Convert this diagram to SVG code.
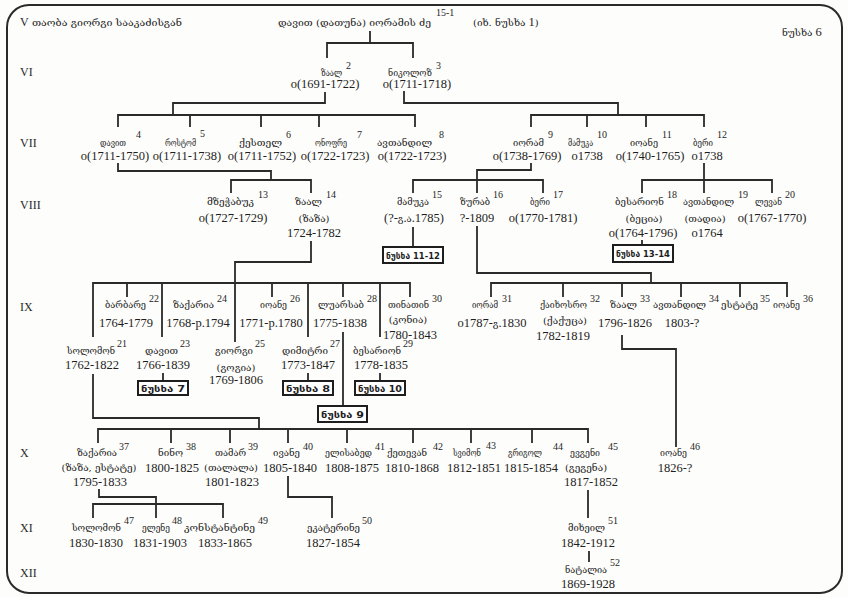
<svg xmlns="http://www.w3.org/2000/svg" width="848" height="597" viewBox="0 0 848 597">
<style>
.g{font-family:"DejaVu Serif","DejaVu Sans","Noto Sans",sans-serif;font-size:10px;fill:#1e1e1e}
.gc{font-family:"DejaVu Serif","DejaVu Sans","Noto Sans",sans-serif;font-size:10px;fill:#1e1e1e;text-anchor:middle}
.d{font-family:"Liberation Serif","DejaVu Serif",serif;font-size:12.5px;fill:#1e1e1e;text-anchor:middle}
.s{font-family:"Liberation Serif",serif;font-size:10px;fill:#1e1e1e}
.r{font-family:"Liberation Serif",serif;font-size:12px;fill:#2a2a2a}
.gs{font-family:"DejaVu Serif","DejaVu Sans",sans-serif;font-size:9.5px}
.bx{fill:#fff;stroke:#1e1e1e;stroke-width:2}
.bt{font-family:"DejaVu Sans","Noto Sans",sans-serif;font-size:9.5px;font-weight:bold;fill:#1e1e1e}
.ln path{fill:none;stroke:#2a2a2a;stroke-width:1.8}
</style>
<rect x="0" y="0" width="848" height="597" fill="#fdfdfb"/>
<rect x="7" y="5" width="835" height="588" rx="22" ry="22" fill="none" stroke="#2a2a2a" stroke-width="2"/>

<g id="row-labels">
<text class="r" x="20" y="26">V</text>
<text class="r" x="20" y="76">VI</text>
<text class="r" x="20" y="147">VII</text>
<text class="r" x="20" y="209">VIII</text>
<text class="r" x="20" y="311">IX</text>
<text class="r" x="20" y="457">X</text>
<text class="r" x="20" y="532">XI</text>
<text class="r" x="20" y="577">XII</text>
</g>

<g id="header">
<text class="g" x="32" y="26" textLength="150" lengthAdjust="spacingAndGlyphs">თაობა გიორგი სააკაძისგან</text>
<text class="g" x="278" y="26" textLength="153" lengthAdjust="spacingAndGlyphs">დავით (დათუნა) იორამის ძე</text>
<text class="s" x="436" y="16">15-1</text>
<text class="g" x="473" y="26">(იხ. ნუსხა <tspan class="d" style="text-anchor:start">1</tspan>)</text>
<text class="g" x="782" y="36">ნუსხა <tspan class="d" style="text-anchor:start">6</tspan></text>
</g>

<g class="ln" id="connectors">
<path d="M370,31V43M327,58V43H413V58"/>
<path d="M325,92V103H173V115M118,127V115H415V127M190,115V127M261,115V127M319,115V127"/>
<path d="M404,91V103H618V115M531,127V115H704V127M587,115V127M646,115V127"/>
<path d="M118,163V171H271V180M231,193V180H311V193"/>
<path d="M531,163V170H477V193M413,193V180H543V193"/>
<path d="M704,163V193M642,193V180H772V193"/>
<path d="M413,227V247M642,240V245"/>
<path d="M311,241V262H235V342"/>
<path d="M93,337V283H410V297M127,283V297M162,283V337M272,283V297M308,283V337M343,283V297M380,283V337"/>
<path d="M343,332V406M163,373V381M308,373V381M380,373V381"/>
<path d="M93,374V418H259V429M98,443V429H588V443M171,429V443M230,429V443M288,429V443M347,429V443M413,429V443M471,429V443M532,429V443"/>
<path d="M477,226V273H651V283M491,297V283H787V297M563,283V297M622,283V297M681,283V297M740,283V297"/>
<path d="M622,335V349H676V447"/>
<path d="M99,489V497H156V518M93,518V504H223V518"/>
<path d="M288,476V497H332V518"/>
<path d="M588,490V518M589,551V562"/>
</g>

<!-- VI -->
<g id="n2"><text class="g" x="321" y="76" textLength="21" lengthAdjust="spacingAndGlyphs">ზაალ</text><text class="s" x="346" y="69">2</text><text class="d" x="325" y="88">o(1691-1722)</text></g>
<g id="n3"><text class="g" x="388" y="76" textLength="44" lengthAdjust="spacingAndGlyphs">ნიკოლოზ</text><text class="s" x="436" y="69">3</text><text class="d" x="417" y="88">o(1711-1718)</text></g>

<!-- VII -->
<g id="n4"><text class="g" x="100" y="146" textLength="26" lengthAdjust="spacingAndGlyphs">დავით</text><text class="s" x="136" y="138">4</text><text class="d" x="115" y="160">o(1711-1750)</text></g>
<g id="n5"><text class="g" x="165" y="146" textLength="31" lengthAdjust="spacingAndGlyphs">როსტომ</text><text class="s" x="200" y="137">5</text><text class="d" x="187" y="160">o(1711-1738)</text></g>
<g id="n6"><text class="g" x="239" y="146" textLength="43" lengthAdjust="spacingAndGlyphs">ქესთელ</text><text class="s" x="286" y="138">6</text><text class="d" x="262" y="160">o(1711-1752)</text></g>
<g id="n7"><text class="g" x="315" y="146" textLength="32" lengthAdjust="spacingAndGlyphs">ონოფრე</text><text class="s" x="357" y="138">7</text><text class="d" x="335" y="160">o(1722-1723)</text></g>
<g id="n8"><text class="g" x="377" y="146" textLength="55" lengthAdjust="spacingAndGlyphs">ავთანდილ</text><text class="s" x="439" y="138">8</text><text class="d" x="412" y="160">o(1722-1723)</text></g>
<g id="n9"><text class="g" x="513" y="146" textLength="31" lengthAdjust="spacingAndGlyphs">იორამ</text><text class="s" x="548" y="138">9</text><text class="d" x="527" y="160">o(1738-1769)</text></g>
<g id="n10"><text class="g" x="568" y="146" textLength="25" lengthAdjust="spacingAndGlyphs">მამუკა</text><text class="s" x="597" y="138">10</text><text class="d" x="587" y="160">o1738</text></g>
<g id="n11"><text class="g" x="630" y="146" textLength="28" lengthAdjust="spacingAndGlyphs">იოანე</text><text class="s" x="662" y="138">11</text><text class="d" x="650" y="160">o(1740-1765)</text></g>
<g id="n12"><text class="g" x="693" y="146" textLength="20" lengthAdjust="spacingAndGlyphs">ბერი</text><text class="s" x="717" y="138">12</text><text class="d" x="707" y="160">o1738</text></g>

<!-- VIII -->
<g id="n13"><text class="g" x="207" y="205" textLength="47" lengthAdjust="spacingAndGlyphs">მზეჭაბუკ</text><text class="s" x="258" y="198">13</text><text class="d" x="233" y="222">o(1727-1729)</text></g>
<g id="n14"><text class="g" x="295" y="205" textLength="27" lengthAdjust="spacingAndGlyphs">ზაალ</text><text class="s" x="326" y="198">14</text><text class="gc" x="314" y="222">(ზაზა)</text><text class="d" x="314" y="237">1724-1782</text></g>
<g id="n15"><text class="g" x="397" y="205" textLength="32" lengthAdjust="spacingAndGlyphs">მამუკა</text><text class="s" x="432" y="198">15</text><text class="d" x="414" y="222">(?-<tspan class="gs">გ</tspan>.<tspan class="gs">ა</tspan>.1785)</text></g>
<g id="n16"><text class="g" x="460" y="205" textLength="30" lengthAdjust="spacingAndGlyphs">ზურაბ</text><text class="s" x="493" y="198">16</text><text class="d" x="477" y="222">?-1809</text></g>
<g id="n17"><text class="g" x="530" y="205" textLength="20" lengthAdjust="spacingAndGlyphs">ბერი</text><text class="s" x="553" y="198">17</text><text class="d" x="543" y="222">o(1770-1781)</text></g>
<g id="n18"><text class="g" x="615" y="205" textLength="49" lengthAdjust="spacingAndGlyphs">ბესარიონ</text><text class="s" x="667" y="198">18</text><text class="gc" x="644" y="222">(ბეცია)</text><text class="d" x="643" y="237">o(1764-1796)</text></g>
<g id="n19"><text class="g" x="683" y="205" textLength="51" lengthAdjust="spacingAndGlyphs">ავთანდილ</text><text class="s" x="738" y="198">19</text><text class="gc" x="705" y="222">(თადია)</text><text class="d" x="707" y="237">o1764</text></g>
<g id="n20"><text class="g" x="755" y="205" textLength="27" lengthAdjust="spacingAndGlyphs">ლევან</text><text class="s" x="785" y="198">20</text><text class="d" x="772" y="222">o(1767-1770)</text></g>

<g id="box11-12"><rect class="bx" x="383" y="247" width="60" height="16"/><text class="bt" x="386" y="258.5" textLength="54" lengthAdjust="spacingAndGlyphs">ნუსხა 11-12</text></g>
<g id="box13-14"><rect class="bx" x="613" y="245" width="60" height="17"/><text class="bt" x="616" y="257" textLength="54" lengthAdjust="spacingAndGlyphs">ნუსხა 13-14</text></g>

<!-- IX upper -->
<g id="n22"><text class="g" x="105" y="308" textLength="41" lengthAdjust="spacingAndGlyphs">ბარბარე</text><text class="s" x="149" y="302">22</text><text class="d" x="126" y="327">1764-1779</text></g>
<g id="n24"><text class="g" x="173" y="308" textLength="41" lengthAdjust="spacingAndGlyphs">ზაქარია</text><text class="s" x="217" y="302">24</text><text class="d" x="198" y="327">1768-p.1794</text></g>
<g id="n26"><text class="g" x="260" y="308" textLength="27" lengthAdjust="spacingAndGlyphs">იოანე</text><text class="s" x="290" y="302">26</text><text class="d" x="271" y="327">1771-p.1780</text></g>
<g id="n28"><text class="g" x="318" y="308" textLength="46" lengthAdjust="spacingAndGlyphs">ლუარსაბ</text><text class="s" x="367" y="302">28</text><text class="d" x="340" y="327">1775-1838</text></g>
<g id="n30"><text class="g" x="388" y="308" textLength="41" lengthAdjust="spacingAndGlyphs">თინათინ</text><text class="s" x="432" y="302">30</text><text class="gc" x="408" y="323">(კონია)</text><text class="d" x="410" y="339">1780-1843</text></g>
<g id="n31"><text class="g" x="472" y="308" textLength="26" lengthAdjust="spacingAndGlyphs">იორამ</text><text class="s" x="502" y="302">31</text><text class="d" x="492" y="327">o1787-<tspan class="gs">გ</tspan>.1830</text></g>
<g id="n32"><text class="g" x="540" y="308" textLength="47" lengthAdjust="spacingAndGlyphs">ქაიხოსრო</text><text class="s" x="590" y="302">32</text><text class="gc" x="565" y="324">(ქაქუცა)</text><text class="d" x="563" y="340">1782-1819</text></g>
<g id="n33"><text class="g" x="610" y="308" textLength="27" lengthAdjust="spacingAndGlyphs">ზაალ</text><text class="s" x="640" y="302">33</text><text class="d" x="625" y="327">1796-1826</text></g>
<g id="n34"><text class="g" x="653" y="308" textLength="53" lengthAdjust="spacingAndGlyphs">ავთანდილ</text><text class="s" x="709" y="302">34</text><text class="d" x="682" y="327">1803-?</text></g>
<g id="n35"><text class="g" x="721" y="308" textLength="37" lengthAdjust="spacingAndGlyphs">ესტატე</text><text class="s" x="760" y="302">35</text></g>
<g id="n36"><text class="g" x="773" y="308" textLength="27" lengthAdjust="spacingAndGlyphs">იოანე</text><text class="s" x="803" y="302">36</text></g>

<!-- IX lower -->
<g id="n21"><text class="g" x="67" y="354" textLength="48" lengthAdjust="spacingAndGlyphs">სოლომონ</text><text class="s" x="117" y="347">21</text><text class="d" x="92" y="369">1762-1822</text></g>
<g id="n23"><text class="g" x="145" y="354" textLength="33" lengthAdjust="spacingAndGlyphs">დავით</text><text class="s" x="180" y="347">23</text><text class="d" x="163" y="369">1766-1839</text></g>
<g id="n25"><text class="g" x="215" y="354" textLength="38" lengthAdjust="spacingAndGlyphs">გიორგი</text><text class="s" x="255" y="347">25</text><text class="gc" x="236" y="371">(გოგია)</text><text class="d" x="236" y="384">1769-1806</text></g>
<g id="n27"><text class="g" x="282" y="354" textLength="46" lengthAdjust="spacingAndGlyphs">დიმიტრი</text><text class="s" x="330" y="347">27</text><text class="d" x="308" y="369">1773-1847</text></g>
<g id="n29"><text class="g" x="353" y="354" textLength="48" lengthAdjust="spacingAndGlyphs">ბესარიონ</text><text class="s" x="403" y="347">29</text><text class="d" x="381" y="369">1778-1835</text></g>

<g id="box7"><rect class="bx" x="138" y="381" width="50" height="14"/><text class="bt" x="141" y="392" textLength="44" lengthAdjust="spacingAndGlyphs">ნუსხა 7</text></g>
<g id="box8"><rect class="bx" x="283" y="381" width="50" height="14"/><text class="bt" x="286" y="392" textLength="44" lengthAdjust="spacingAndGlyphs">ნუსხა 8</text></g>
<g id="box10"><rect class="bx" x="355" y="381" width="50" height="14"/><text class="bt" x="358" y="392" textLength="44" lengthAdjust="spacingAndGlyphs">ნუსხა 10</text></g>
<g id="box9"><rect class="bx" x="318" y="406" width="49" height="16"/><text class="bt" x="321" y="418" textLength="43" lengthAdjust="spacingAndGlyphs">ნუსხა 9</text></g>

<!-- X -->
<g id="n37"><text class="g" x="77" y="456" textLength="40" lengthAdjust="spacingAndGlyphs">ზაქარია</text><text class="s" x="119" y="450">37</text><text class="gc" x="99" y="471">(ზაზა, ესტატე)</text><text class="d" x="100" y="486">1795-1833</text></g>
<g id="n38"><text class="g" x="158" y="456" textLength="25" lengthAdjust="spacingAndGlyphs">ნინო</text><text class="s" x="186" y="450">38</text><text class="d" x="172" y="472">1800-1825</text></g>
<g id="n39"><text class="g" x="215" y="456" textLength="31" lengthAdjust="spacingAndGlyphs">თამარ</text><text class="s" x="248" y="450">39</text><text class="gc" x="231" y="471">(თალალა)</text><text class="d" x="232" y="486">1801-1823</text></g>
<g id="n40"><text class="g" x="273" y="456" textLength="27" lengthAdjust="spacingAndGlyphs">ივანე</text><text class="s" x="303" y="450">40</text><text class="d" x="290" y="472">1805-1840</text></g>
<g id="n41"><text class="g" x="325" y="456" textLength="47" lengthAdjust="spacingAndGlyphs">ელისაბედ</text><text class="s" x="375" y="450">41</text><text class="d" x="352" y="472">1808-1875</text></g>
<g id="n42"><text class="g" x="387" y="456" textLength="40" lengthAdjust="spacingAndGlyphs">ქეთევან</text><text class="s" x="433" y="450">42</text><text class="d" x="412" y="472">1810-1868</text></g>
<g id="n43"><text class="g" x="453" y="456" textLength="28" lengthAdjust="spacingAndGlyphs">სვიმონ</text><text class="s" x="486" y="449">43</text><text class="d" x="474" y="472">1812-1851</text></g>
<g id="n44"><text class="g" x="508" y="456" textLength="34" lengthAdjust="spacingAndGlyphs">გრიგოლ</text><text class="s" x="553" y="450">44</text><text class="d" x="531" y="472">1815-1854</text></g>
<g id="n45"><text class="g" x="570" y="456" textLength="30" lengthAdjust="spacingAndGlyphs">ევგენი</text><text class="s" x="608" y="450">45</text><text class="gc" x="586" y="471">(გეგენა)</text><text class="d" x="591" y="486">1817-1852</text></g>
<g id="n46"><text class="g" x="660" y="456" textLength="27" lengthAdjust="spacingAndGlyphs">იოანე</text><text class="s" x="690" y="450">46</text><text class="d" x="675" y="472">1826-?</text></g>

<!-- XI -->
<g id="n47"><text class="g" x="72" y="531" textLength="49" lengthAdjust="spacingAndGlyphs">სოლომონ</text><text class="s" x="124" y="524">47</text><text class="d" x="96" y="547">1830-1830</text></g>
<g id="n48"><text class="g" x="142" y="531" textLength="28" lengthAdjust="spacingAndGlyphs">ელენე</text><text class="s" x="172" y="524">48</text><text class="d" x="160" y="547">1831-1903</text></g>
<g id="n49"><text class="g" x="184" y="531" textLength="71" lengthAdjust="spacingAndGlyphs">კონსტანტინე</text><text class="s" x="258" y="524">49</text><text class="d" x="225" y="547">1833-1865</text></g>
<g id="n50"><text class="g" x="307" y="531" textLength="53" lengthAdjust="spacingAndGlyphs">ეკატერინე</text><text class="s" x="362" y="524">50</text><text class="d" x="333" y="547">1827-1854</text></g>
<g id="n51"><text class="g" x="568" y="531" textLength="37" lengthAdjust="spacingAndGlyphs">მიხეილ</text><text class="s" x="608" y="524">51</text><text class="d" x="588" y="547">1842-1912</text></g>

<!-- XII -->
<g id="n52"><text class="g" x="565" y="573" textLength="42" lengthAdjust="spacingAndGlyphs">ნატალია</text><text class="s" x="610" y="566">52</text><text class="d" x="588" y="588">1869-1928</text></g>
</svg>
